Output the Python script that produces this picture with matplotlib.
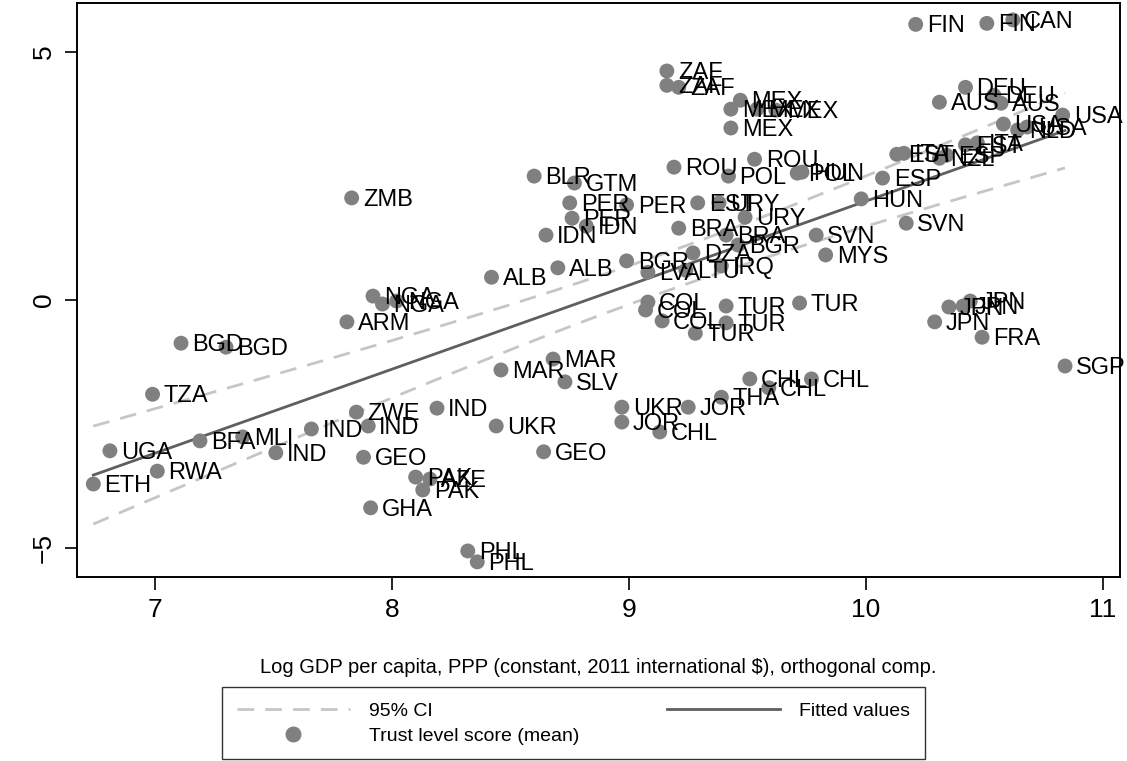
"""Trust level score vs log GDP per capita, with fitted line and 95% CI."""

import matplotlib
matplotlib.use("Agg")
import matplotlib.pyplot as plt
from matplotlib.lines import Line2D
import numpy as np

plt.rcParams["font.family"] = ["Liberation Sans", "DejaVu Sans"]

countries = [
    "ETH", "UGA", "RWA", "TZA", "BGD", "BGD", "BFA", "MLI", "IND", "IND",
    "ZWE", "IND", "IND", "GEO", "GHA", "PAK", "AZE", "PAK", "PHL", "PHL",
    "UKR", "GEO", "MAR", "MAR", "SLV", "ARM", "NGA", "NGA", "NGA", "ZMB",
    "ALB", "ALB", "IDN", "BLR", "GTM", "PER", "PER", "IDN", "PER", "BGR",
    "LVA", "ZAF", "ZAF", "ZAF", "ROU", "BRA", "EST", "URY", "URY", "BRA",
    "BGR", "DZA", "LTU", "IRQ", "MEX", "MEX", "MEX", "MEX", "MEX", "ROU",
    "POL", "POL", "HUN", "COL", "COL", "COL", "TUR", "TUR", "TUR", "TUR",
    "UKR", "JOR", "CHL", "JOR", "THA", "CHL", "CHL", "CHL", "SVN", "MYS",
    "HUN", "ESP", "SVN", "FIN", "FIN", "CAN", "DEU", "DEU", "AUS", "AUS",
    "USA", "USA", "USA", "NLD", "EST", "ITA", "NZL", "ESP", "EST", "ITA",
    "JPN", "JPN", "JPN", "JPN", "FRA", "SGP",
]

log_gdp = [
    6.74, 6.81, 7.01, 6.99, 7.11, 7.30, 7.19, 7.37, 7.51, 7.66,
    7.85, 7.90, 8.19, 7.88, 7.91, 8.10, 8.16, 8.13, 8.32, 8.36,
    8.44, 8.64, 8.46, 8.68, 8.73, 7.81, 7.92, 7.96, 8.02, 7.83,
    8.42, 8.70, 8.65, 8.60, 8.77, 8.75, 8.76, 8.82, 8.99, 8.99,
    9.08, 9.16, 9.16, 9.21, 9.19, 9.21, 9.29, 9.38, 9.49, 9.41,
    9.46, 9.27, 9.24, 9.39, 9.47, 9.43, 9.54, 9.62, 9.43, 9.53,
    9.42, 9.71, 9.73, 9.08, 9.07, 9.14, 9.41, 9.72, 9.41, 9.28,
    8.97, 8.97, 9.13, 9.25, 9.39, 9.51, 9.59, 9.77, 9.79, 9.83,
    9.98, 10.07, 10.17, 10.21, 10.51, 10.62, 10.42, 10.54, 10.31, 10.57,
    10.83, 10.58, 10.68, 10.64, 10.13, 10.16, 10.31, 10.34, 10.42, 10.47,
    10.35, 10.41, 10.44, 10.29, 10.49, 10.84,
]

trust = [
    -3.71, -3.04, -3.45, -1.90, -0.87, -0.95, -2.84, -2.76, -3.08, -2.60,
    -2.26, -2.54, -2.18, -3.17, -4.19, -3.57, -3.61, -3.83, -5.06, -5.28,
    -2.54, -3.06, -1.41, -1.19, -1.65, -0.44, 0.08, -0.08, -0.02, 2.06,
    0.46, 0.65, 1.31, 2.50, 2.36, 1.96, 1.65, 1.49, 1.92, 0.79,
    0.56, 4.62, 4.33, 4.29, 2.68, 1.45, 1.96, 1.96, 1.67, 1.31,
    1.11, 0.95, 0.60, 0.69, 4.03, 3.85, 3.85, 3.83, 3.47, 2.84,
    2.50, 2.56, 2.58, -0.04, -0.20, -0.42, -0.12, -0.06, -0.46, -0.67,
    -2.16, -2.46, -2.66, -2.16, -1.96, -1.59, -1.77, -1.59, 1.31, 0.91,
    2.04, 2.46, 1.55, 5.56, 5.58, 5.65, 4.29, 4.13, 3.99, 3.97,
    3.73, 3.55, 3.49, 3.43, 2.94, 2.96, 2.86, 2.92, 3.13, 3.17,
    -0.14, -0.12, -0.02, -0.44, -0.75, -1.33,
]

POINT_COLOR = "#808080"
FIT_COLOR = "#5f5f5f"
CI_COLOR = "#c6c6c6"


def main():
    x = np.array(log_gdp)
    y = np.array(trust)

    # OLS fit and 95% CI of the mean prediction
    slope, intercept = np.polyfit(x, y, 1)
    n = len(x)
    resid = y - (intercept + slope * x)
    s = np.sqrt(np.sum(resid ** 2) / (n - 2))
    sxx = np.sum((x - x.mean()) ** 2)
    xs = np.linspace(x.min(), x.max(), 200)
    fit = intercept + slope * xs
    se = s * np.sqrt(1.0 / n + (xs - x.mean()) ** 2 / sxx)
    t = 1.98

    fig = plt.figure(figsize=(11.27, 7.61), dpi=100)
    ax = fig.add_axes([0.0683, 0.2418, 0.9255, 0.7542])

    ax.plot(xs, fit + t * se, color=CI_COLOR, lw=2, dashes=(6, 4))
    ax.plot(xs, fit - t * se, color=CI_COLOR, lw=2, dashes=(6, 4))
    ax.plot(xs, fit, color=FIT_COLOR, lw=2)
    ax.scatter(x, y, s=115, color=POINT_COLOR, edgecolors="none", zorder=3)

    for lab, xi, yi in zip(countries, x, y):
        ax.annotate(lab, (xi, yi), xytext=(8, -1.5), textcoords="offset points",
                    ha="left", va="center", fontsize=17, color="black",
                    zorder=4, annotation_clip=False)

    ax.set_xlim(6.671, 11.072)
    ax.set_ylim(-5.585, 5.99)
    ax.set_xticks([7, 8, 9, 10, 11])
    ax.set_yticks([-5, 0, 5])
    ax.tick_params(axis="both", direction="out", length=9, width=1.2,
                   labelsize=19, pad=6)
    for lbl in ax.get_yticklabels():
        lbl.set_rotation(90)
        lbl.set_va("center")
    for sp in ax.spines.values():
        sp.set_linewidth(1.4)

    ax.set_xlabel("Log GDP per capita, PPP (constant, 2011 international $), orthogonal comp.",
                  fontsize=14.5, labelpad=26)

    # column-wise fill: CI, Trust | Fitted
    handles = [
        Line2D([], [], color=CI_COLOR, lw=2, dashes=(6, 4)),
        Line2D([], [], marker="o", ls="none", color=POINT_COLOR, markersize=10.5),
        Line2D([], [], color=FIT_COLOR, lw=2),
    ]
    labels = ["95% CI", "Trust level score (mean)", "Fitted values"]
    leg = fig.legend(handles, labels,
                     loc="lower center", bbox_to_anchor=(0.509, 0.002), ncol=2,
                     fontsize=14, frameon=True, fancybox=False, edgecolor="black",
                     borderpad=0.75, borderaxespad=0, columnspacing=4.5,
                     handlelength=5.8, handletextpad=1.0, labelspacing=0.4)
    leg.get_frame().set_linewidth(1.0)

    fig.savefig("out.png", dpi=100)
    plt.close(fig)


if __name__ == "__main__":
    main()
